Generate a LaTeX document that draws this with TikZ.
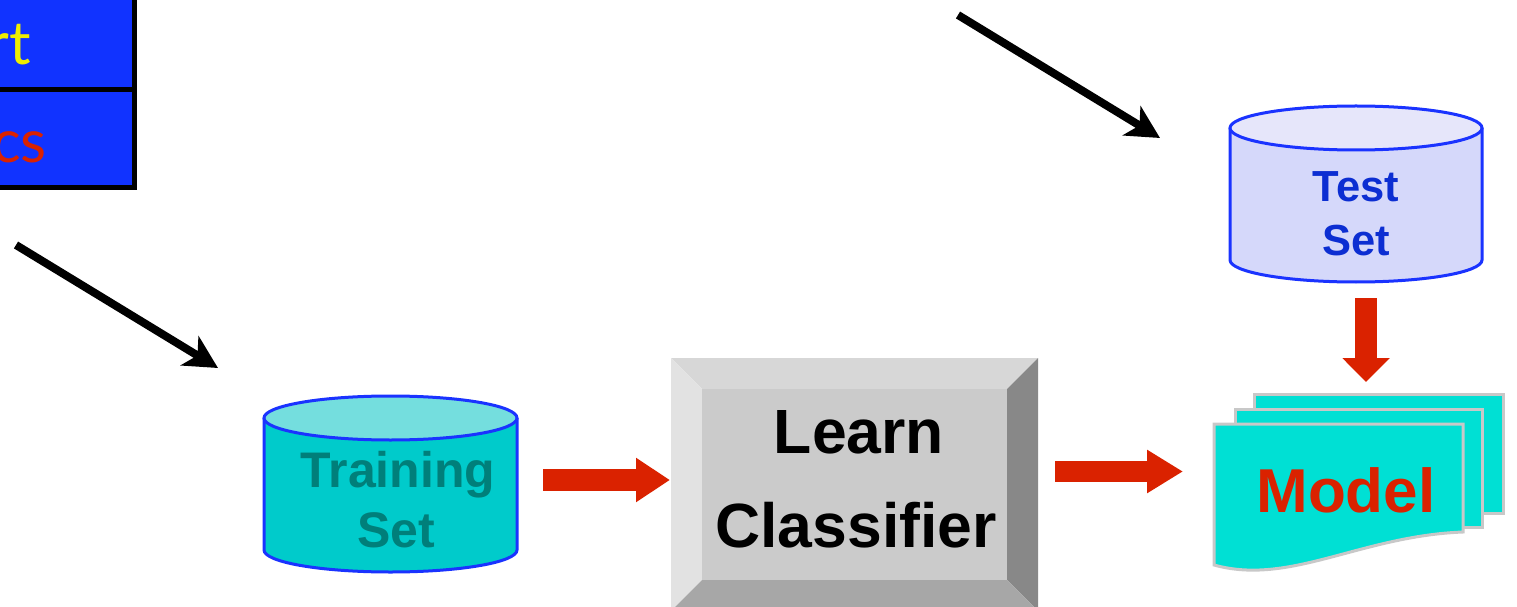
\documentclass[tikz,border=0pt]{standalone}
\usepackage{fontspec}
\setmainfont{Liberation Sans}
\newfontfamily\gillish{Lato}
\usetikzlibrary{arrows.meta,calc}

\definecolor{cellblue}{HTML}{1133FF}
\definecolor{cellyellow}{HTML}{EEEE00}
\definecolor{arrowred}{HTML}{DA2200}
\definecolor{cylblue}{HTML}{1A33FF}
\definecolor{trainbody}{HTML}{00CBCB}
\definecolor{traintop}{HTML}{74DEDE}
\definecolor{traintext}{HTML}{007F7A}
\definecolor{testbody}{HTML}{D5D8FA}
\definecolor{testtop}{HTML}{E6E6FA}
\definecolor{testtext}{HTML}{0C2ED2}
\definecolor{pageteal}{HTML}{00E0D4}
\definecolor{pagegray}{HTML}{C8C8C8}
\definecolor{bevtop}{HTML}{D7D7D7}
\definecolor{bevleft}{HTML}{E2E2E2}
\definecolor{bevmid}{HTML}{CBCBCB}
\definecolor{bevright}{HTML}{888888}
\definecolor{bevbottom}{HTML}{A7A7A7}

% cylinder drawn around an invisible node: #1 node, #2 x radius, #3 body, #4 lid
\newcommand\drawcyl[4]{%
  \fill[#3] ([yshift=-22pt]#1.north west) -- ([yshift=22pt]#1.south west)
    arc[start angle=180,end angle=360,x radius=#2,y radius=22]
    -- ([yshift=-22pt]#1.north east) -- cycle;
  \draw[cylline] ([yshift=-22pt]#1.north west) -- ([yshift=22pt]#1.south west)
    arc[start angle=180,end angle=360,x radius=#2,y radius=22]
    -- ([yshift=-22pt]#1.north east);
  \draw[cylline,fill=#4] ([yshift=-22pt]#1.north) ellipse[x radius=#2,y radius=22];
}

\begin{document}
\begin{tikzpicture}[x=1pt,y=1pt,
  area/.style={inner sep=0pt,outer sep=0pt},
  cell/.style={area,draw=black,line width=5pt,fill=cellblue,minimum width=154pt},
  celltext/.style={inner sep=0pt,anchor=base east,font=\gillish\fontsize{60}{60}\selectfont},
  redarrow/.style={draw=arrowred,line width=22pt,-{Triangle[length=34pt,width=42pt]}},
  blackarrow/.style={draw=black,line width=8pt,-{Stealth[length=33pt,width=34pt,inset=9pt]}},
  cylline/.style={draw=cylblue,line width=3pt},
  page/.style={area,draw=pagegray,line width=3pt,fill=pageteal},
  label/.style={inner sep=0pt,anchor=base},
]
\useasboundingbox (0,0) rectangle (1517,606);
\clip (0,0) rectangle (1517,606);

% table corner, top left
\node[cell,minimum height=114pt] (cellA) at (57,573) {};
\node[cell,minimum height=98pt] (cellB) at (57,467) {};
\node[celltext,text=cellyellow] (cellAtext) at (31,541) {rt};
\node[celltext,text=arrowred] (cellBtext) at (47,443) {cs};

% training set cylinder
\node[area,minimum width=253pt,minimum height=176pt] (train) at (390.5,122) {};
\drawcyl{train}{126.5}{trainbody}{traintop}
\node[label,text=traintext,font=\bfseries\fontsize{50}{50}\selectfont] (trainA) at (398,119) {Training};
\node[label,text=traintext,font=\bfseries\fontsize{50}{50}\selectfont] (trainB) at (396.5,59) {Set};

% test set cylinder
\node[area,minimum width=252pt,minimum height=176pt] (test) at (1356,412) {};
\drawcyl{test}{126}{testbody}{testtop}
\node[label,text=testtext,font=\bfseries\fontsize{43.5}{43.5}\selectfont] (testA) at (1356,404) {Test};
\node[label,text=testtext,font=\bfseries\fontsize{43.5}{43.5}\selectfont] (testB) at (1356.5,350) {Set};

% bevelled classifier button
\node[area,minimum width=367pt,minimum height=253pt] (learn) at (854.5,121.5) {};
\fill[bevtop] (learn.north west) -- (learn.north east)
  -- ([shift={(-31pt,-31pt)}]learn.north east) -- ([shift={(31pt,-31pt)}]learn.north west) -- cycle;
\fill[bevleft] (learn.north west) -- (learn.south west)
  -- ([shift={(31pt,31pt)}]learn.south west) -- ([shift={(31pt,-31pt)}]learn.north west) -- cycle;
\fill[bevright] (learn.north east) -- (learn.south east)
  -- ([shift={(-31pt,31pt)}]learn.south east) -- ([shift={(-31pt,-31pt)}]learn.north east) -- cycle;
\fill[bevbottom] (learn.south west) -- (learn.south east)
  -- ([shift={(-31pt,31pt)}]learn.south east) -- ([shift={(31pt,31pt)}]learn.south west) -- cycle;
\fill[bevmid] ([shift={(31pt,-31pt)}]learn.north west) rectangle ([shift={(-31pt,31pt)}]learn.south east);
\node[label,font=\bfseries\fontsize{62.5}{62.5}\selectfont] (learnA) at (859,153) {Learn};
\node[label,font=\bfseries\fontsize{62.5}{62.5}\selectfont] (learnB) at (856,59) {Classifier};

% stacked model pages
\node[page,minimum width=249pt,minimum height=119pt] (modelback) at (1378.5,152.5) {};
\node[page,minimum width=247pt,minimum height=118pt] (modelmid) at (1358.5,138) {};
\node[area,minimum width=249pt,minimum height=141pt] (model) at (1338.5,111.5) {};
\draw[page] (model.south west) -- (model.north west) -- (model.north east)
  -- ([yshift=33pt]model.south east)
  .. controls ([shift={(-103pt,29pt)}]model.south east) and ([shift={(76pt,-21pt)}]model.south west) .. (model.south west)
  -- cycle;
\node[label,text=arrowred,font=\bfseries\fontsize{62}{62}\selectfont] (modellabel) at (1346,94) {Model};

% flow arrows
\draw[redarrow] ([shift={(26pt,4pt)}]train.east) -- ([shift={(-1pt,4.5pt)}]learn.west);
\draw[redarrow,line width=21pt,-{Triangle[length=36pt,width=41pt]}]
  ([shift={(17pt,13pt)}]learn.east) -- ([shift={(-31pt,23pt)}]model.west);
\draw[redarrow,-{Triangle[length=24pt,width=46pt]}]
  ([shift={(10pt,-16pt)}]test.south) -- ([shift={(-12.5pt,12pt)}]modelback.north);

% incoming data arrows
\coordinate (testsource) at (958,591);
\draw[blackarrow] ([shift={(-41pt,-57pt)}]cellB.south) -- ([shift={(-46pt,28pt)}]train.north west);
\draw[blackarrow] (testsource) -- ([shift={(-70pt,-32pt)}]test.north west);
\end{tikzpicture}
\end{document}
